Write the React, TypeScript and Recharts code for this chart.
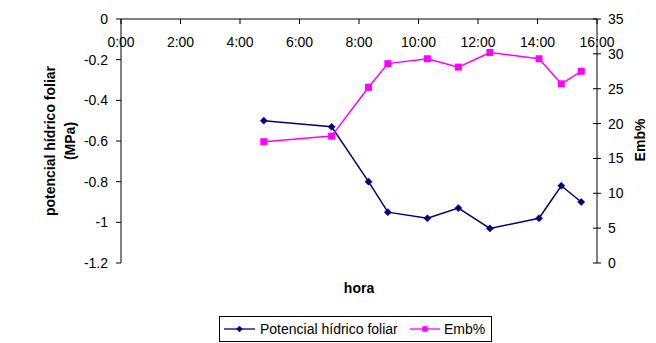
import { Line, LineChart, XAxis, YAxis } from "recharts";

// hora (decimal hours) of each measurement
const HOURS = [4.8, 7.08, 8.32, 8.97, 10.3, 11.34, 12.4, 14.05, 14.8, 15.47];
// potencial hídrico foliar (MPa)
const POTENCIAL = [-0.5, -0.53, -0.8, -0.95, -0.98, -0.93, -1.03, -0.98, -0.82, -0.9];
// Emb%
const EMB = [17.4, 18.2, 25.2, 28.6, 29.3, 28.1, 30.2, 29.3, 25.7, 27.5];

const X_TICKS = [0, 2, 4, 6, 8, 10, 12, 14, 16];
const LEFT_TICKS = [0, -0.2, -0.4, -0.6, -0.8, -1, -1.2];
const RIGHT_TICKS = [0, 5, 10, 15, 20, 25, 30, 35];

const NAVY = "#000080";
const MAGENTA = "#ff00ff";
const FONT = "Arial, 'Liberation Sans', sans-serif";

const data = HOURS.map((h, i) => ({ hour: h, pot: POTENCIAL[i], emb: EMB[i] }));

function Diamond({ cx, cy, r = 3.6, fill }: { cx?: number; cy?: number; r?: number; fill: string }) {
  if (cx == null || cy == null) return null;
  return (
    <polygon
      points={`${cx},${cy - r} ${cx + r},${cy} ${cx},${cy + r} ${cx - r},${cy}`}
      fill={fill}
      stroke={fill}
      strokeWidth={0.5}
    />
  );
}

function Square({ cx, cy, s = 7, fill }: { cx?: number; cy?: number; s?: number; fill: string }) {
  if (cx == null || cy == null) return null;
  return <rect x={cx - s / 2} y={cy - s / 2} width={s} height={s} fill={fill} />;
}

function RightTick(props: any) {
  const { x, y, payload } = props;
  const axisX = x - 11;
  return (
    <g>
      <line x1={axisX - 4} x2={axisX + 4} y1={y} y2={y} stroke="#000" strokeWidth={1} />
      <text x={x} y={y} dy={5} fontSize={14} fontFamily={FONT} fill="#000" textAnchor="start">
        {payload.value}
      </text>
    </g>
  );
}

export default function App() {
  return (
    <div
      style={{
        position: "absolute",
        left: 0,
        top: 0,
        width: 656,
        height: 343,
        overflow: "hidden",
        background: "#fff",
      }}
    >
      <LineChart
        width={656}
        height={343}
        data={data}
        margin={{ top: 19, right: 9, bottom: 80, left: 61 }}
      >
        <XAxis
          xAxisId="t"
          dataKey="hour"
          type="number"
          orientation="top"
          mirror
          height={0.01}
          domain={[0, 16]}
          ticks={X_TICKS}
          tickFormatter={(v: number) => `${v}:00`}
          tickSize={5}
          tickMargin={13}
          stroke="#000"
          tick={{ fill: "#000", fontSize: 14, fontFamily: FONT }}
          interval={0}
          allowDataOverflow
        />
        <YAxis
          yAxisId="left"
          orientation="left"
          width={60}
          domain={[-1.2, 0]}
          ticks={LEFT_TICKS}
          tickFormatter={(v: number) => String(v)}
          tickSize={5}
          tickMargin={8}
          stroke="#000"
          tick={{ fill: "#000", fontSize: 14, fontFamily: FONT }}
          interval={0}
          allowDataOverflow
        />
        <YAxis
          yAxisId="right"
          orientation="right"
          width={50}
          domain={[0, 35]}
          ticks={RIGHT_TICKS}
          tickLine={false}
          tickSize={4}
          tickMargin={7}
          stroke="#000"
          tick={<RightTick />}
          interval={0}
          allowDataOverflow
        />
        <Line
          xAxisId="t"
          yAxisId="left"
          dataKey="pot"
          name="Potencial hídrico foliar"
          stroke={NAVY}
          strokeWidth={1.5}
          dot={(p: any) => <Diamond key={`d${p.index}`} cx={p.cx} cy={p.cy} fill={NAVY} />}
          isAnimationActive={false}
        />
        <Line
          xAxisId="t"
          yAxisId="right"
          dataKey="emb"
          name="Emb%"
          stroke={MAGENTA}
          strokeWidth={1.5}
          dot={(p: any) => <Square key={`s${p.index}`} cx={p.cx} cy={p.cy} fill={MAGENTA} />}
          isAnimationActive={false}
        />
      </LineChart>
      <svg
        width={656}
        height={343}
        style={{ position: "absolute", left: 0, top: 0, pointerEvents: "none" }}
      >
        <g fontFamily={FONT} fontSize={14} fontWeight="bold" fill="#000">
          <text transform="translate(55,141) rotate(-90)" textAnchor="middle">
            potencial hídrico foliar
          </text>
          <text transform="translate(75,141) rotate(-90)" textAnchor="middle">
            (MPa)
          </text>
          <text transform="translate(645,140) rotate(-90)" textAnchor="middle">
            Emb%
          </text>
          <text x={359} y={293} textAnchor="middle">
            hora
          </text>
        </g>
        {/* legend */}
        <g fontFamily={FONT} fontSize={14} fill="#000">
          <rect x={219.5} y={316.5} width={272} height={25} fill="#fff" stroke="#000" strokeWidth={1} />
          <line x1={224} x2={255} y1={329} y2={329} stroke={NAVY} strokeWidth={1.3} />
          <Diamond cx={239.5} cy={329} r={3} fill={NAVY} />
          <text x={260} y={334}>Potencial hídrico foliar</text>
          <line x1={410} x2={440} y1={329} y2={329} stroke={MAGENTA} strokeWidth={1.3} />
          <Square cx={425} cy={329} s={5.5} fill={MAGENTA} />
          <text x={444} y={334}>Emb%</text>
        </g>
      </svg>
    </div>
  );
}
